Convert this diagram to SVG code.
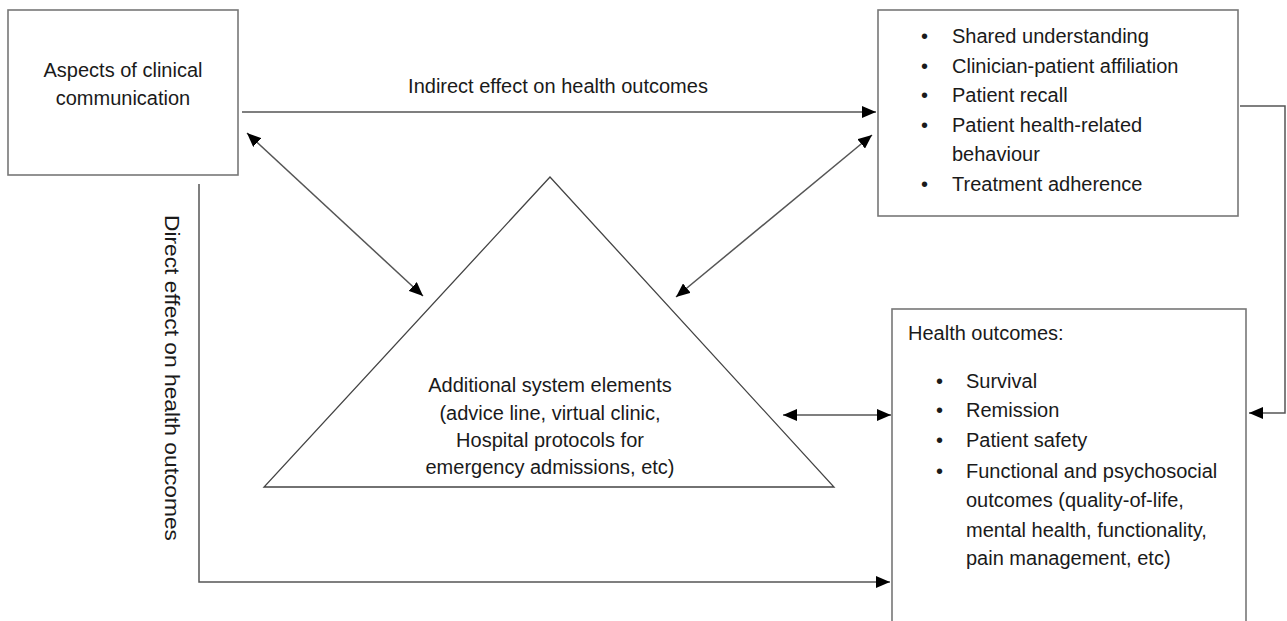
<svg xmlns="http://www.w3.org/2000/svg" width="1287" height="621" viewBox="0 0 1287 621">
<style>
text{font-family:"Liberation Sans",Arial,sans-serif;font-size:20px;fill:#1a1a1a}
.box{fill:#fff;stroke:#777;stroke-width:1.6}
.tri{fill:#fff;stroke:#444;stroke-width:1.3}
.c{fill:none;stroke:#555;stroke-width:1.5}
.mid{text-anchor:middle}
</style>
<defs>
<marker id="ah" markerUnits="userSpaceOnUse" markerWidth="14" markerHeight="12" viewBox="0 0 14 12" refX="14" refY="6" orient="auto-start-reverse">
<path d="M0,0 L14,6 L0,12 z" fill="#000"/>
</marker>
</defs>
<rect width="1287" height="621" fill="#fff"/>
<g id="connectors">
<line class="c" x1="242" y1="112" x2="876" y2="112" marker-end="url(#ah)"/>
<line class="c" x1="247" y1="133" x2="423" y2="296" marker-start="url(#ah)" marker-end="url(#ah)"/>
<line class="c" x1="872" y1="135" x2="676" y2="297" marker-start="url(#ah)" marker-end="url(#ah)"/>
<line class="c" x1="783" y1="415" x2="891" y2="415" marker-start="url(#ah)" marker-end="url(#ah)"/>
<polyline class="c" points="199,184 199,582 890,582" marker-end="url(#ah)"/>
<polyline class="c" points="1240,106 1285,106 1285,413 1249,413" marker-end="url(#ah)"/>
<text class="mid" x="558" y="93">Indirect effect on health outcomes</text>
<text class="mid" transform="translate(165,378) rotate(90)" textLength="326" lengthAdjust="spacingAndGlyphs">Direct effect on health outcomes</text>
</g>
<g id="aspects">
<rect class="box" x="8" y="10" width="230" height="165"/>
<text class="mid" x="123" y="77">Aspects of clinical</text>
<text class="mid" x="123" y="105">communication</text>
</g>
<g id="intermediate">
<rect class="box" x="878" y="10" width="360" height="206"/>
<text x="921" y="43">•</text><text x="952" y="43">Shared understanding</text>
<text x="921" y="73">•</text><text x="952" y="73">Clinician-patient affiliation</text>
<text x="921" y="102">•</text><text x="952" y="102">Patient recall</text>
<text x="921" y="132">•</text><text x="952" y="132">Patient health-related</text>
<text x="952" y="161">behaviour</text>
<text x="921" y="191">•</text><text x="952" y="191">Treatment adherence</text>
</g>
<g id="system">
<polygon class="tri" points="550,177 264,487 834,487"/>
<text class="mid" x="550" y="392">Additional system elements</text>
<text class="mid" x="550" y="420">(advice line, virtual clinic,</text>
<text class="mid" x="550" y="447">Hospital protocols for</text>
<text class="mid" x="550" y="474">emergency admissions, etc)</text>
</g>
<g id="outcomes">
<rect class="box" x="892" y="309" width="354" height="330"/>
<text x="908" y="340">Health outcomes:</text>
<text x="936" y="388">•</text><text x="966" y="388">Survival</text>
<text x="936" y="417">•</text><text x="966" y="417">Remission</text>
<text x="936" y="447">•</text><text x="966" y="447">Patient safety</text>
<text x="936" y="478">•</text><text x="966" y="478">Functional and psychosocial</text>
<text x="966" y="507">outcomes (quality-of-life,</text>
<text x="966" y="537">mental health, functionality,</text>
<text x="966" y="565">pain management, etc)</text>
</g>
</svg>
